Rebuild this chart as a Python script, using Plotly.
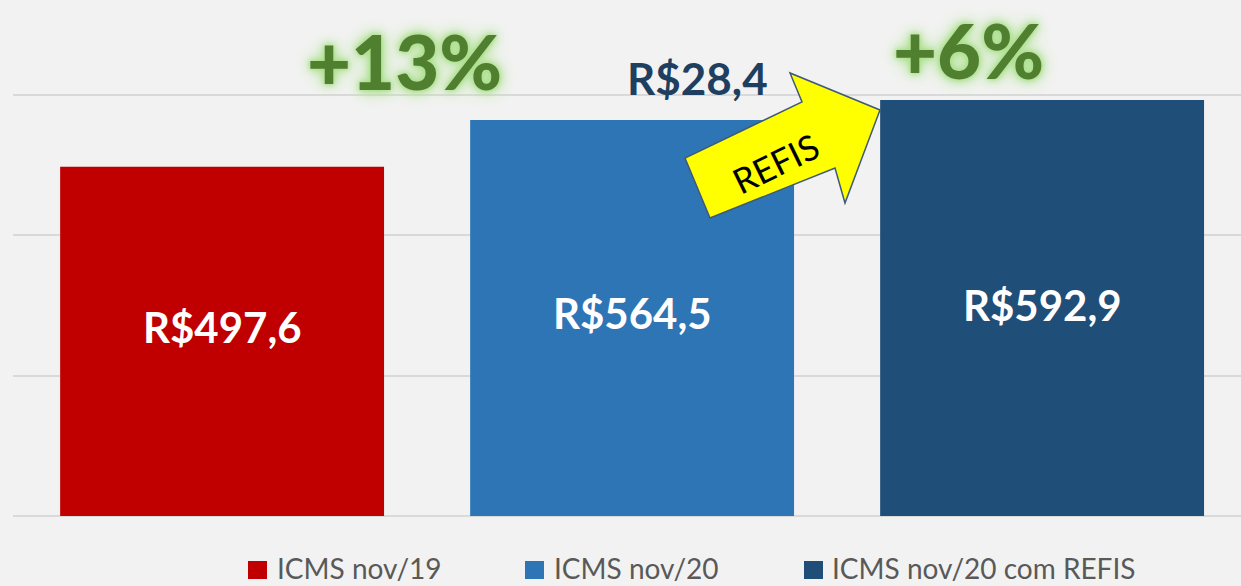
import plotly.graph_objects as go

# ---- data ----
categories = ["ICMS nov/19", "ICMS nov/20", "ICMS nov/20 com REFIS"]
values = [497.6, 564.5, 592.9]
colors = ["#c00000", "#2e75b6", "#1f4e79"]
growth_labels = ["+13%", "+6%"]
refis_label = "REFIS"

# ---- layout geometry (pixels) ----
W, H = 1241, 586
ML, MR, MT, MB = 13, 0, 0, 70
PW, PH = W - ML - MR, H - MT - MB
Y_MAX = 735.4
X_RANGE = [-0.51, -0.51 + PW / 410.0]


def px_to_paper(px, py):
    return (px - ML) / PW, (H - MB - py) / PH


def fmt(v):
    return "R$" + f"{v:.1f}".replace(".", ",")


fig = go.Figure()
xs = list(range(len(values)))
for i, (cat, v, c) in enumerate(zip(categories, values, colors)):
    fig.add_trace(go.Bar(x=[xs[i]], y=[v], name=cat, marker=dict(color=c, line=dict(width=0)),
                         width=0.79, showlegend=False, hoverinfo="skip"))

# value labels inside bars
label_frac = [0.54, 0.512, 0.507]
for i, v in enumerate(values):
    fig.add_annotation(x=xs[i], y=v * label_frac[i], text=f"<b>{fmt(v)}</b>", showarrow=False,
                       xanchor="center", yanchor="middle",
                       font=dict(family="Lato", size=42, color="white"))

# difference label
diff = values[2] - values[1]
dx, dy = px_to_paper(697, 78)
fig.add_annotation(xref="paper", yref="paper", x=dx, y=dy, text=f"<b>{fmt(diff)}</b>",
                   showarrow=False, xanchor="center", yanchor="middle",
                   font=dict(family="Lato", size=44, color="#1f3f60"))

# growth labels
glow = "0 0 4px #a8de88, 0 0 8px #a8de88, 0 0 14px #b5e49a, 0 0 20px #c5eab0"
gpos = [(405, 61), (968, 50)]
for lab, (gx, gy) in zip(growth_labels, gpos):
    px, py = px_to_paper(gx, gy)
    fig.add_annotation(xref="paper", yref="paper", x=px, y=py, text=lab, showarrow=False,
                       xanchor="center", yanchor="middle",
                       font=dict(family="Lato", size=76, weight=900, color="#4f7f2f", shadow=glow))

# REFIS arrow
arrow_px = [(710, 218), (685, 158), (802, 102), (790, 73), (880, 110), (845, 203), (835, 168)]
pts = [px_to_paper(a, b) for a, b in arrow_px]
path = "M " + " L ".join(f"{p[0]:.5f},{p[1]:.5f}" for p in pts) + " Z"
fig.add_shape(type="path", xref="paper", yref="paper", path=path,
              fillcolor="#ffff00", line=dict(color="#3d5a78", width=1.5), layer="above")
rx, ry = px_to_paper(775, 163)
fig.add_annotation(xref="paper", yref="paper", x=rx, y=ry, text=refis_label, showarrow=False,
                   xanchor="center", yanchor="middle",
                   textangle=-26, font=dict(family="Lato", size=35, color="#000000"))

# legend (drawn as squares + text below the plot)
legend_sq_x = [248, 525, 804]
legend_txt_x = [276, 553, 831]
for cat, c, sx, tx in zip(categories, colors, legend_sq_x, legend_txt_x):
    x0, y0 = px_to_paper(sx, 579)
    x1, y1 = px_to_paper(sx + 19, 561)
    fig.add_shape(type="rect", xref="paper", yref="paper", x0=x0, y0=y0, x1=x1, y1=y1,
                  fillcolor=c, line=dict(width=0))
    tpx, tpy = px_to_paper(tx, 568)
    fig.add_annotation(xref="paper", yref="paper", x=tpx, y=tpy, text=cat, showarrow=False,
                       xanchor="left", yanchor="middle", borderpad=0,
                       font=dict(family="Lato", size=28, color="#595959"))

fig.update_layout(
    width=W, height=H,
    margin=dict(l=ML, r=MR, t=MT, b=MB),
    paper_bgcolor="#f2f2f2", plot_bgcolor="#f2f2f2",
    barmode="overlay",
    xaxis=dict(range=X_RANGE, showgrid=False, showticklabels=False, zeroline=False, showline=False,
               fixedrange=True),
    yaxis=dict(range=[0, Y_MAX], dtick=200, tick0=0, showgrid=True, gridcolor="#d9d9d9", gridwidth=1.5,
               showticklabels=False, zeroline=True, zerolinecolor="#d9d9d9", zerolinewidth=1.5,
               ticks="", fixedrange=True),
    showlegend=False,
)

fig.write_html("out.html", config={"displayModeBar": False},
               post_script="document.body.style.margin='0';document.body.style.background='#f2f2f2';")
